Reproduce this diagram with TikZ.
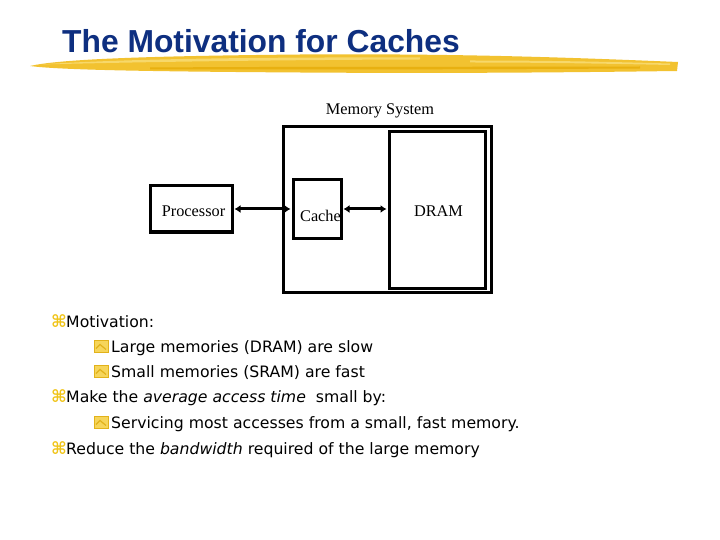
\documentclass[tikz,border=0pt]{standalone}
\usepackage{fontspec}
\setmainfont{Liberation Serif}
\newfontfamily\titlefont{Liberation Sans}
\newfontfamily\bodyfont{DejaVu Sans}
\usetikzlibrary{arrows.meta}
\definecolor{titleblue}{HTML}{0E2F80}
\definecolor{brush}{HTML}{F2C230}
\definecolor{brushlight}{HTML}{F7D86A}
\definecolor{brushdark}{HTML}{E8B010}
\definecolor{bulletyellow}{HTML}{F0C418}
\definecolor{boxyellow}{HTML}{F6D55A}
\definecolor{boxedge}{HTML}{E2B21A}
\tikzset{
  blockbox/.style={draw=black, line width=3pt, inner sep=0pt, minimum width=#1},
  diaglabel/.style={font=\fontsize{16.3}{19}\selectfont, inner sep=0pt, anchor=base},
  biarrow/.style={line width=3pt, {Latex[length=6pt,width=8pt]}-{Latex[length=6pt,width=8pt]}, shorten <=1pt, shorten >=1pt},
  bodytext/.style={font=\bodyfont\fontsize{15.7}{18}\selectfont, inner sep=0pt, anchor=base west},
  topbullet/.style={font=\bodyfont\bfseries\fontsize{17}{18}\selectfont, text=bulletyellow, inner sep=0pt, anchor=base west},
  subbullet/.style={fill=boxyellow, draw=boxedge, line width=1pt, minimum width=14pt, minimum height=12.5pt, inner sep=0pt}
}
\begin{document}
\begin{tikzpicture}[x=1pt,y=-1pt]
\useasboundingbox (0,0) rectangle (720,540);
\fill[white] (0,0) rectangle (720,540);
% brush stroke under the title
\fill[brush] (30,66) .. controls (60,59) and (150,56) .. (300,54.5)
  .. controls (450,53.5) and (560,57) .. (678,62)
  -- (677,71) .. controls (560,72.5) and (450,73.5) .. (300,72.5)
  .. controls (150,71.5) and (60,70) .. cycle;
\fill[brushlight] (40,64.5) .. controls (120,59) and (250,57) .. (420,57.5)
  -- (420,59.5) .. controls (250,60) and (120,62.5) .. cycle;
\fill[brushdark] (150,67.5) .. controls (300,66.5) and (450,67) .. (640,66.5)
  -- (640,68.5) .. controls (450,69.5) and (300,69.5) .. (150,69.5) -- cycle;
\fill[brushlight] (470,60.5) .. controls (540,60.5) and (600,61.5) .. (670,63.5) -- (670,65) .. controls (600,63.5) and (540,62.5) .. (470,62.5) -- cycle;
% title
\node[font=\titlefont\bfseries\fontsize{31.8}{36}\selectfont, text=titleblue, inner sep=0pt, anchor=base west] (title) at (62,53) {The Motivation for Caches};
% diagram
\node[diaglabel] (memlabel) at (380,115) {Memory System};
\node[blockbox=208pt, minimum height=166pt] (memsys) at (387,209.5) {};
\node[blockbox=96pt, minimum height=156pt] (dram) at (437,210) {};
\node[blockbox=48pt, minimum height=59pt] (cache) at (317,209) {};
\node[blockbox=82pt, minimum height=46pt] (proc) at (191,209) {};
\node[diaglabel] (proclabel) at (193.5,216) {Processor};
\node[diaglabel] (cachelabel) at (320.5,222) {Cache};
\node[diaglabel] (dramlabel) at (438.5,216) {DRAM};
\draw[biarrow] (proc.east) -- (proc.east -| cache.west);
\draw[biarrow] (cache.east) -- (cache.east -| dram.west);
% bullet text
\node[topbullet] (b1) at (51,327) {⌘};
\node[bodytext] (t1) at (66,327) {Motivation:};
\node[subbullet] (s1) at (101,346.5) {};
\node[bodytext] (t2) at (111,352) {Large memories (DRAM) are slow};
\node[subbullet] (s2) at (101,371.5) {};
\node[bodytext] (t3) at (111,377) {Small memories (SRAM) are fast};
\node[topbullet] (b2) at (51,402) {⌘};
\node[bodytext] (t4) at (66,402) {Make the \textit{average access time}\ \ small by:};
\node[subbullet] (s3) at (101,422.5) {};
\node[bodytext] (t5) at (111,428) {Servicing most accesses from a small, fast memory.};
\node[topbullet] (b3) at (51,454) {⌘};
\node[bodytext] (t6) at (66,454) {Reduce the \textit{bandwidth} required of the large memory};
% chevrons inside the small bullet boxes
\foreach \s in {s1,s2,s3}{
  \draw[boxedge, line width=1.2pt] ([xshift=-5pt,yshift=-2pt]\s.center) -- ([xshift=-1pt,yshift=2pt]\s.center) -- ([xshift=5pt,yshift=-3pt]\s.center);
}
\end{tikzpicture}
\end{document}
